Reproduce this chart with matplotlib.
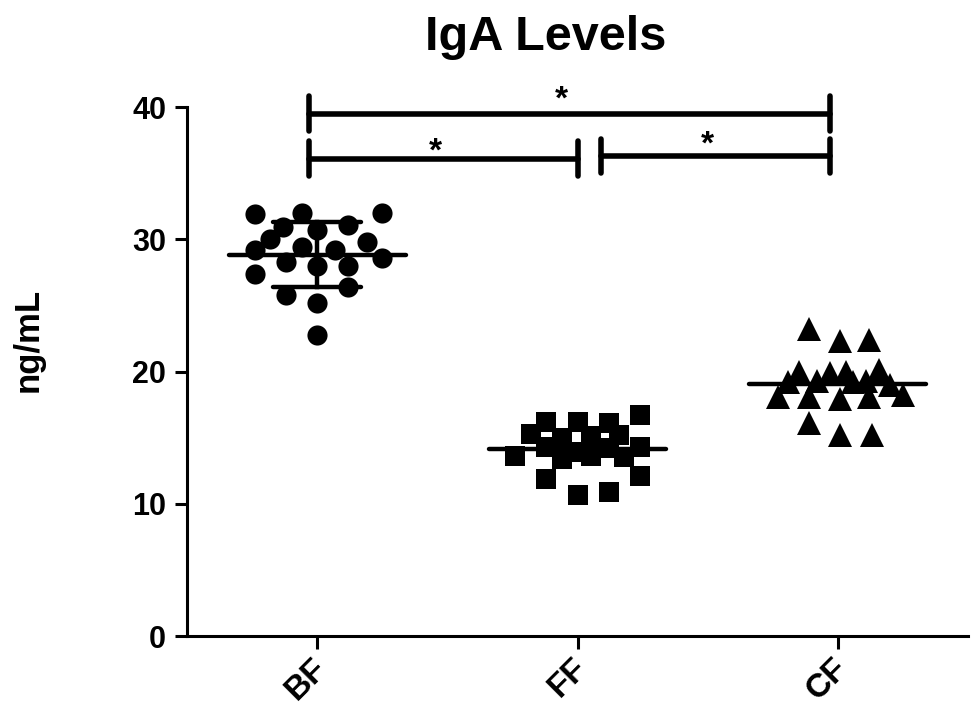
import numpy as np
import matplotlib
matplotlib.use('Agg')
import matplotlib.pyplot as plt
import matplotlib.transforms as mtrans

plt.rcParams['font.family'] = ['Liberation Sans', 'DejaVu Sans']
plt.rcParams['font.weight'] = 'bold'

# groups and readings (ng/mL)
groups = ['BF', 'FF', 'CF']

bfVals = [31.9, 32.0, 32.0, 30.9, 31.1, 30.0, 30.7, 29.8, 29.2, 29.4,
          29.2, 28.6, 28.3, 28.0, 28.0, 27.4, 26.4, 25.8, 25.2, 22.8]
bfJitter = [-0.24, -0.06, 0.25, -0.13, 0.12, -0.18, 0.0, 0.19, -0.24, -0.06,
            0.07, 0.25, -0.12, 0.0, 0.12, -0.24, 0.12, -0.12, 0.0, 0.0]

ffVals = [16.2, 16.2, 16.1, 16.7, 15.3, 15.0, 15.1, 15.2, 13.6, 14.3,
          13.9, 14.2, 14.3, 13.4, 13.6, 13.5, 11.9, 12.1, 10.7, 10.9]
ffJitter = [-0.12, 0.0, 0.12, 0.24, -0.18, -0.06, 0.05, 0.16, -0.24, -0.12,
            0.0, 0.12, 0.24, -0.06, 0.05, 0.18, -0.12, 0.24, 0.0, 0.12]

cfVals = [23.2, 22.3, 22.4, 20.0, 19.9, 20.0, 20.1, 19.2, 19.3, 19.2,
          19.3, 19.0, 18.1, 18.1, 17.9, 18.1, 18.2, 16.1, 15.2, 15.2]
cfJitter = [-0.11, 0.01, 0.12, -0.15, -0.03, 0.03, 0.16, -0.19, -0.08, 0.06,
            0.11, 0.2, -0.23, -0.11, 0.01, 0.12, 0.25, -0.11, 0.01, 0.13]

# significance brackets: (start group, end group, height, star height)
sigPairs = [(0, 2, 39.5, 40.5), (0, 1, 36.1, 36.6), (1, 2, 36.3, 37.1)]
sigLabel = '*'

markers = ['o', 's', '^']
markerSizes = [14.5, 15, 17]
showSD = [True, False, False]
lineW = 2.2

fig = plt.figure(figsize=(9.71, 7.28), dpi=100)
ax = fig.add_axes([187 / 971, 1 - 636 / 728, 781 / 971, 568.6 / 728])

allVals = [bfVals, ffVals, cfVals]
allJit = [bfJitter, ffJitter, cfJitter]
for i, (vals, jit) in enumerate(zip(allVals, allJit)):
    xs = i + np.array(jit)
    ax.plot(xs, vals, linestyle='none', marker=markers[i], color='black',
            markersize=markerSizes[i], markeredgewidth=0, zorder=2)
    m = np.mean(vals)
    sd = np.std(vals, ddof=1)
    ax.plot([i - 0.34, i + 0.34], [m, m], color='black', lw=3.2,
            solid_capstyle='round', zorder=3)
    if showSD[i]:
        ax.plot([i, i], [m - sd, m + sd], color='black', lw=3.2, zorder=3)
        for yy in (m - sd, m + sd):
            ax.plot([i - 0.17, i + 0.17], [yy, yy], color='black', lw=3.2,
                    solid_capstyle='round', zorder=3)

# brackets
for a, b, h, sh in sigPairs:
    x0 = a - 0.03 if a == 0 else a + 0.09
    x1 = b - 0.03 if b == 2 else b
    ax.plot([x0, x1], [h, h], color='black', lw=4, solid_capstyle='round',
            clip_on=False)
    for xx in (x0, x1):
        ax.plot([xx, xx], [h - 1.3, h + 1.3], color='black', lw=4,
                solid_capstyle='round', clip_on=False)
    ax.text((x0 + x1) / 2 - 0.03, sh, sigLabel, ha='center', va='center',
            fontsize=24, fontweight='bold')

ax.set_xlim(-0.5, 2.5)
ax.set_ylim(0, 43)
ax.set_yticks([0, 10, 20, 30, 40])
ax.set_xticks(range(len(groups)))
ax.set_xticklabels(groups, rotation=45, ha='right', rotation_mode='default')

for s in ['top', 'right']:
    ax.spines[s].set_visible(False)
for s in ['left', 'bottom']:
    ax.spines[s].set_linewidth(lineW)
ax.spines['left'].set_bounds(0, 40)

ax.tick_params(axis='both', direction='out', length=9, width=lineW,
               labelsize=22, pad=6)
ax.tick_params(axis='x', labelsize=24, pad=3)
shift = mtrans.ScaledTranslation(16 / 100, 0, fig.dpi_scale_trans)
for lab in ax.get_xticklabels():
    lab.set_fontweight('bold')
    lab.set_transform(lab.get_transform() + shift)
for lab in ax.get_yticklabels():
    lab.set_fontweight('bold')

ax.set_ylabel('ng/mL', fontsize=25, fontweight='bold')
ax.yaxis.set_label_coords(-0.182, 0.52)

fig.text(546 / 971, 1 - 50 / 728, 'IgA Levels', ha='center', va='baseline',
         fontsize=35, fontweight='bold')

fig.savefig('out.png', dpi=100)
